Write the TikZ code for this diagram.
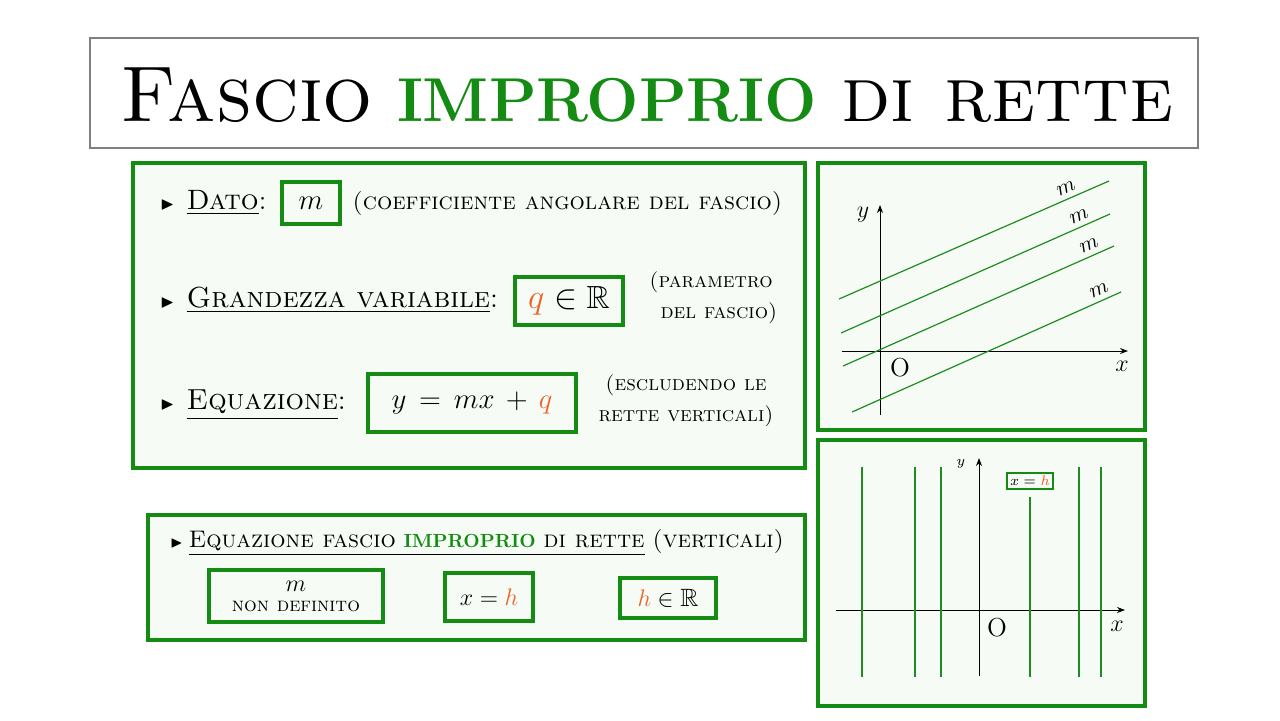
\documentclass[tikz,border=0pt]{standalone}
\usepackage{amssymb}
\usetikzlibrary{arrows.meta}
\definecolor{gr}{RGB}{20,140,20}
\definecolor{ln}{RGB}{30,140,30}
\definecolor{bg}{RGB}{246,251,246}
\definecolor{og}{RGB}{232,100,40}
\newcommand{\mysz}[1]{\fontsize{#1}{1.2\dimexpr#1\relax}\selectfont}
\begin{document}
\begin{tikzpicture}[x=0.5pt,y=-0.5pt,
  panel/.style={draw=gr,line width=1.6pt,fill=bg},
  gbox/.style={draw=gr,line width=1.6pt,fill=bg,inner sep=0pt},
  txt/.style={inner sep=0pt,font=\mysz{12pt}},
  side/.style={inner sep=0pt,font=\mysz{10.5pt}},
  fam/.style={ln,line width=0.6pt},
  ax/.style={line width=0.5pt,-{Stealth[length=4pt]}}]
\useasboundingbox (0,0) rectangle (1280,720);
\fill[white] (0,0) rectangle (1280,720);
% title
\draw[gray,line width=0.7pt] (90,38) rectangle (1198,148);
\node[inner sep=0pt] (title) at (647,95) {\mysz{39.5pt}\textsc{Fascio} {\color{gr}\bfseries\mysz{31pt}IMPROPRIO} \textsc{di rette}};
% panel 1
\draw[panel] (133,163) rectangle (805,468);
\node[txt,anchor=west] (t1) at (160,203) {\mysz{9pt}$\blacktriangleright$\ \ \mysz{14pt}\underline{\textsc{Dato}}:};
\node[gbox,minimum width=29pt,minimum height=21pt] (bm) at (311,203) {\mysz{15pt}$m$};
\node[txt,anchor=west] (c1) at (352,203) {\textsc{(coefficiente angolare del fascio)}};
\node[txt,anchor=west] (t2) at (160,300) {\mysz{9pt}$\blacktriangleright$\ \ \mysz{14.5pt}\underline{\textsc{Grandezza variabile}}:};
\node[gbox,minimum width=54pt,minimum height=24pt] (bq) at (569,301) {\mysz{16pt}$\color{og}q\color{black}\in\mathbb{R}$};
\node[side,align=center] (c2) at (711,298) {\textsc{(parametro}\\[3pt]\textsc{\ \ del fascio)}};
\node[txt,anchor=west] (t3) at (160,405) {\mysz{9pt}$\blacktriangleright$\ \ \mysz{14.5pt}\underline{\textsc{Equazione}}:};
\node[gbox,minimum width=104pt,minimum height=29pt] (bq2) at (472,403) {\mysz{15.5pt}$y\,=\,mx\,+\,\color{og}q$};
\node[side,align=center] (c3) at (686,401) {\textsc{(escludendo le}\\[3pt]\textsc{rette verticali)}};
% panel 2
\draw[panel] (148,515) rectangle (805,640);
\node[txt,anchor=west] (t4) at (170,543) {\mysz{8pt}$\blacktriangleright$\ \mysz{12pt}\underline{\textsc{Equazione fascio} {\color{gr}\bfseries\mysz{9.5pt}IMPROPRIO} \textsc{di rette}} \textsc{(verticali)}};
\node[gbox,minimum width=87pt,minimum height=26pt,align=center] (b1) at (296,596) {\mysz{12pt}$m$\\[-2pt]\mysz{10pt}\textsc{non definito}};
\node[gbox,minimum width=44pt,minimum height=24pt] (b2) at (489,597) {\mysz{12.5pt}$x=\color{og}h$};
\node[gbox,minimum width=48pt,minimum height=20pt] (b3) at (668,598) {\mysz{12.5pt}$\color{og}h\color{black}\in\mathbb{R}$};
% graph 1
\draw[panel] (818,163) rectangle (1145,430);
\draw[ax] (880,415) -- (880,205);
\draw[ax] (842,351) -- (1128,351);
\draw[fam] (839,299) -- (1109,181);
\draw[fam] (841,333) -- (1110,214);
\draw[fam] (843,366) -- (1114,246);
\draw[fam] (852,412) -- (1121,292);
\foreach \p in {(1066,188),(1079,216),(1089,245),(1099,290)}
  \node[rotate=23,inner sep=0pt] at \p {\mysz{11pt}$m$};
\node[inner sep=0pt] (O1) at (900,368) {\mysz{13pt}O};
\node[inner sep=0pt] (X1) at (1122,366) {\mysz{13pt}$x$};
\node[inner sep=0pt] (Y1) at (863,215) {\mysz{13pt}$y$};
% graph 2
\draw[panel] (818,440) rectangle (1145,706);
\draw[ax] (979,676) -- (979,458);
\draw[ax] (836,610) -- (1125,610);
\foreach \xx in {862,915,941,1079,1101}
  \draw[fam] (\xx,467) -- (\xx,677);
\draw[fam] (1030,497) -- (1030,677);
\node[draw=gr,line width=0.8pt,fill=bg,inner sep=1.5pt] (xh) at (1030,481) {\mysz{7pt}$x=\color{og}h$};
\node[inner sep=0pt] (O2) at (997,628) {\mysz{13pt}O};
\node[inner sep=0pt] (X2) at (1117,626) {\mysz{13pt}$x$};
\node[inner sep=0pt] (Y2) at (961,464) {\mysz{7pt}$y$};
\end{tikzpicture}
\end{document}
